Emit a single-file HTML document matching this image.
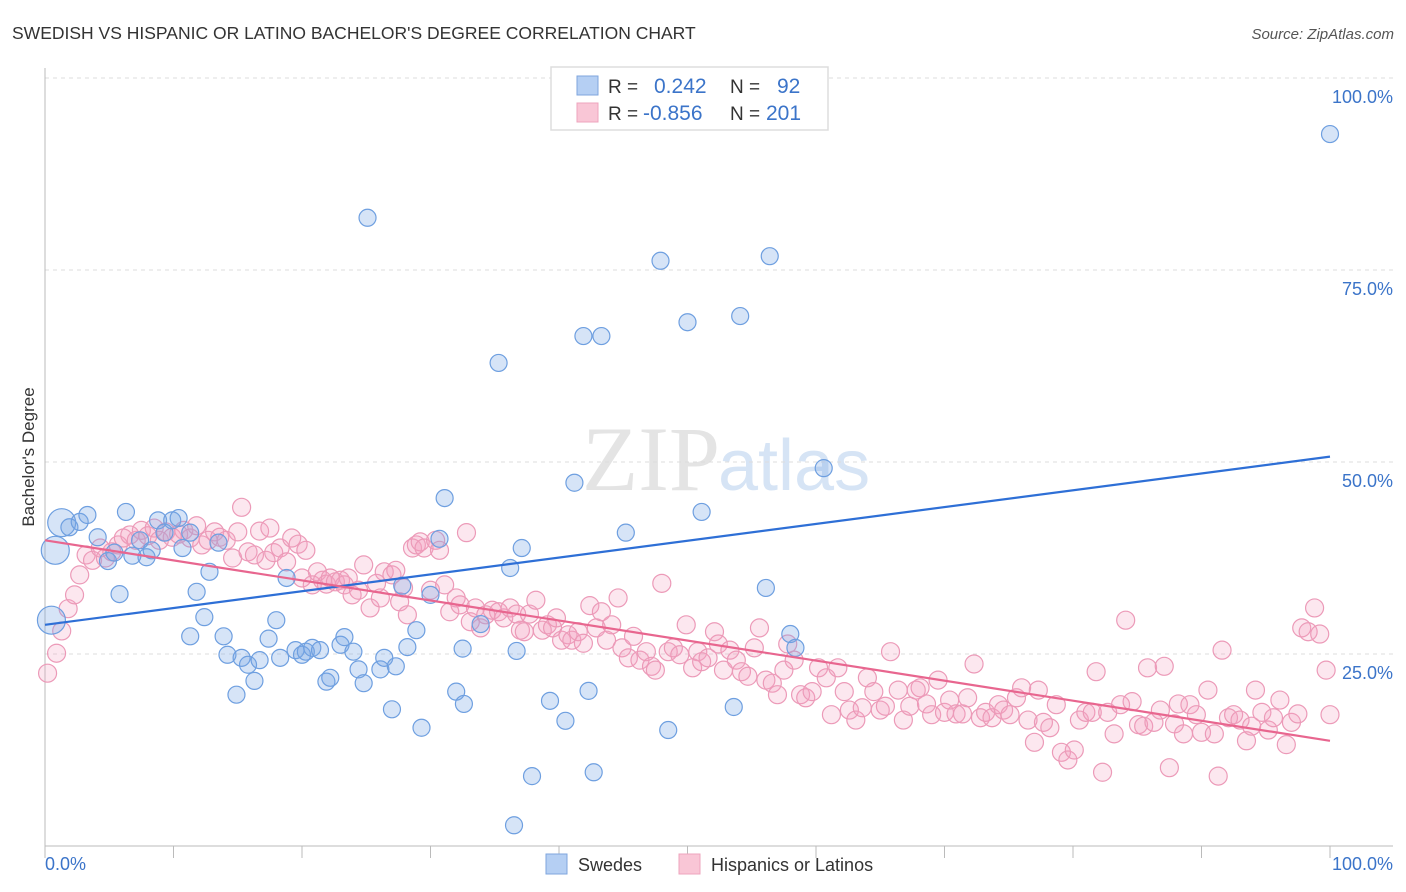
<!DOCTYPE html>
<html><head><meta charset="utf-8"><style>
body{margin:0;background:#fff;font-family:"Liberation Sans",sans-serif;}
svg{display:block}
</style></head><body>
<svg id="chart" width="1406" height="892" xmlns="http://www.w3.org/2000/svg">
<text x="12" y="39" font-size="17.5" fill="#333">SWEDISH VS HISPANIC OR LATINO BACHELOR'S DEGREE CORRELATION CHART</text>
<text x="1394" y="39" font-size="15" fill="#555" font-style="italic" text-anchor="end">Source: ZipAtlas.com</text>
<text x="720" y="490" font-size="92" fill="#e4e4e4" text-anchor="end" font-family="Liberation Serif,serif">ZIP</text>
<text x="718" y="490" font-size="72" fill="#d6e4f5">atlas</text>
<g id="grid"></g>
<g id="axes"></g>
<g id="pts"></g>
<g id="trends"></g>
<text transform="translate(34,457) rotate(-90)" font-size="17" fill="#333" text-anchor="middle">Bachelor's Degree</text>
<g>
<rect x="551" y="67" width="277" height="63" fill="#fff" stroke="#ddd" stroke-width="1.5"/>
<rect x="577" y="76" width="21" height="19" fill="#b5cff3" stroke="#7fa6de"/>
<rect x="577" y="103" width="21" height="19" fill="#f9c6d6" stroke="#eea4bd"/>
<text x="608" y="93" font-size="19" fill="#333">R =</text>
<text x="654" y="93" font-size="21" fill="#3b74c9">0.242</text>
<text x="730" y="93" font-size="19" fill="#333">N =</text>
<text x="777" y="93" font-size="21" fill="#3b74c9">92</text>
<text x="608" y="120" font-size="19" fill="#333">R =</text>
<text x="643" y="120" font-size="21" fill="#3b74c9">-0.856</text>
<text x="730" y="120" font-size="19" fill="#333">N =</text>
<text x="766" y="120" font-size="21" fill="#3b74c9">201</text>
</g>
<g>
<rect x="546" y="854" width="21" height="20" fill="#b5cff3" stroke="#7fa6de"/>
<text x="578" y="871" font-size="18" fill="#333">Swedes</text>
<rect x="679" y="854" width="21" height="20" fill="#f9c6d6" stroke="#eea4bd"/>
<text x="711" y="871" font-size="18" fill="#333">Hispanics or Latinos</text>
</g>
</svg>
<script>
const blueX=[0.5,0.8,1.3,1.9,2.7,3.3,4.1,4.9,5.4,5.8,6.3,6.8,7.4,7.9,8.3,8.8,9.3,9.9,10.4,10.7,11.3,11.8,12.4,12.8,13.5,11.3,13.9,14.2,14.9,15.3,15.8,16.3,16.7,17.4,18.0,18.3,18.8,19.5,20.0,20.3,20.8,21.4,21.9,22.2,23.0,23.3,24.0,24.4,24.8,25.1,26.1,26.4,27.0,27.3,27.8,28.2,28.9,29.3,30.0,30.7,31.1,32.0,32.5,32.6,33.9,35.3,36.2,36.7,37.1,36.5,37.9,39.3,40.5,41.2,41.9,42.3,42.7,43.3,45.2,47.9,48.5,50.0,51.1,53.6,54.1,56.1,56.4,58.0,58.4,60.6,100];
const blueY=[29.4,38.5,42.1,41.5,42.2,43.1,40.2,37.1,38.2,32.8,43.5,37.8,39.8,37.6,38.5,42.4,40.8,42.4,42.7,38.8,40.8,33.1,29.8,35.7,39.5,27.3,27.3,24.9,19.7,24.5,23.6,21.5,24.2,27.0,29.4,24.5,34.9,25.5,24.9,25.3,25.8,25.5,21.4,21.9,26.2,27.2,25.3,23.0,21.2,81.8,23.0,24.5,17.8,23.4,33.9,25.9,28.1,15.4,32.7,40.0,45.3,20.1,25.7,18.5,28.9,62.9,36.2,25.4,38.8,2.7,9.1,18.9,16.3,47.3,66.4,20.2,9.6,66.4,40.8,76.2,15.1,68.2,43.5,18.1,69.0,33.6,76.8,27.6,25.8,49.2,92.7];
const pinkX=[0.2,0.9,1.3,1.8,2.3,2.7,3.2,3.7,4.3,4.7,5.2,5.7,6.1,6.6,7.1,7.5,8.0,8.5,8.9,9.4,9.9,10.4,10.8,11.3,11.8,12.2,12.7,13.2,13.6,14.1,14.6,15.0,15.3,15.8,16.3,16.7,17.2,17.5,17.8,18.3,18.8,19.2,19.7,20.0,20.3,20.8,21.2,21.6,21.9,22.2,22.6,23.0,23.3,23.6,23.9,24.4,24.8,25.3,25.8,26.1,26.4,27.0,27.3,27.6,27.9,28.2,28.6,28.9,29.2,29.5,30.0,30.4,30.7,31.1,31.5,32.0,32.3,32.8,33.1,33.5,33.9,34.3,34.8,35.3,35.7,36.2,36.7,37.0,37.3,37.7,38.2,38.7,39.1,39.5,39.8,40.2,40.7,41.0,41.5,41.9,42.4,42.9,43.3,43.7,44.1,44.6,44.9,45.4,45.8,46.3,46.8,47.2,47.5,48.0,48.5,48.9,49.4,49.9,50.4,50.8,51.1,51.6,52.1,52.4,52.8,53.3,53.8,54.2,54.7,55.2,55.6,56.1,56.6,57.0,57.5,57.8,58.3,58.8,59.2,59.7,60.2,60.8,61.2,61.7,62.2,62.6,63.1,63.6,64.0,64.5,65.0,65.4,65.8,66.4,66.8,67.3,67.8,68.1,68.6,69.0,69.5,70.0,70.4,70.9,71.4,71.8,72.3,72.8,73.2,73.7,74.2,74.6,75.1,75.6,76.0,76.5,77.0,77.3,77.7,78.2,78.7,79.1,79.6,80.1,80.5,81.0,81.5,81.8,82.3,82.7,83.2,83.7,84.1,84.6,85.1,85.5,85.8,86.3,86.8,87.1,87.5,87.9,88.2,88.6,89.1,89.6,90.0,90.5,91.0,91.3,91.6,92.1,92.5,93.0,93.5,93.9,94.2,94.7,95.2,95.6,96.1,96.6,97.0,97.5,97.8,98.3,98.8,99.2,99.7,100];
const pinkY=[22.5,25.1,28.0,30.9,32.7,35.3,37.9,37.2,38.8,37.5,38.3,39.2,40.1,40.5,39.8,41.1,40.4,41.4,39.8,40.9,40.2,40.6,41.1,40.1,41.7,39.2,39.8,40.9,40.2,39.8,37.5,40.9,44.1,38.3,37.9,41.0,37.2,41.4,38.2,38.8,37.0,40.1,39.3,34.9,38.5,34.0,35.7,34.6,34.1,34.9,34.4,34.6,34.0,34.9,32.7,33.3,36.6,31.0,34.2,32.3,35.7,35.3,35.9,31.8,33.6,30.1,38.8,39.2,39.6,38.8,33.3,39.8,38.5,34.0,30.5,32.3,31.4,40.8,29.2,31.0,28.4,30.1,30.7,30.5,29.7,31.0,30.2,28.1,27.9,30.2,32.0,28.1,28.8,28.4,29.7,26.8,27.5,26.8,27.9,26.4,31.3,28.4,30.5,26.8,28.8,32.3,25.8,24.5,27.3,24.2,25.3,23.4,22.9,34.2,25.3,25.8,24.9,28.8,23.2,25.3,24.0,24.5,27.9,26.3,22.9,25.5,24.2,22.7,22.1,25.8,28.4,21.6,21.2,19.7,22.9,26.3,24.2,19.7,19.3,20.1,23.2,21.9,17.1,23.2,20.1,17.7,16.4,18.0,21.9,20.1,17.7,18.2,25.3,20.3,16.4,18.2,20.3,20.6,18.5,17.1,21.6,17.4,19.0,17.2,17.2,19.3,23.7,16.7,17.4,16.7,18.4,17.7,17.1,19.3,20.6,16.4,13.5,20.3,16.1,15.4,18.4,12.2,11.2,12.5,16.4,17.4,17.4,22.7,9.6,17.4,14.6,18.4,29.4,18.8,15.8,15.6,23.2,16.1,17.7,23.4,10.2,15.9,18.5,14.6,18.4,17.1,14.8,20.3,14.6,9.1,25.5,16.7,17.1,16.4,13.7,15.6,20.3,17.4,15.1,16.7,19.0,13.2,16.1,17.2,28.4,27.9,31.0,27.6,22.9,17.1];
const blueTrend=[28.8,50.7];
const pinkTrend=[39.8,13.7];
const yTicks=[25,50,75,100];
const xTickCount=10;
const NS="http://www.w3.org/2000/svg";
const X0=45,X1=1330,Y0=846,Y100=78;
const sx=v=>X0+(X1-X0)*v/100;
const sy=v=>Y0-(Y0-Y100)*v/100;
function mk(tag,attrs,parent){const e=document.createElementNS(NS,tag);for(const k in attrs)e.setAttribute(k,attrs[k]);parent.appendChild(e);return e;}
const grid=document.getElementById('grid'),axes=document.getElementById('axes');
yTicks.forEach(t=>{
 const l=mk('line',{x1:X0,x2:1393,y1:sy(t),y2:sy(t),stroke:'#ddd','stroke-dasharray':'4 4'},grid);
 
 
 const tx=mk('text',{x:1393,y:sy(t)+25,'font-size':18,fill:'#3b74c9','text-anchor':'end'},axes);
 tx.textContent=t.toFixed(1)+'%';
 
 
});
const ax=mk('line',{x1:X0,x2:1393,y1:Y0,y2:Y0,stroke:'#bbb'},axes);


const ay=mk('line',{x1:X0,x2:X0,y1:68,y2:Y0,stroke:'#bbb'},axes);


for(let i=0;i<=xTickCount;i++){
 const x=sx(i*100/xTickCount);
 const t=mk('line',{x1:x,x2:x,y1:Y0,y2:Y0+12,stroke:'#bbb'},axes);
 
 
}
const xl=mk('text',{x:X0,y:870,'font-size':18,fill:'#3b74c9'},axes);xl.textContent='0.0%';


const xr=mk('text',{x:1393,y:870,'font-size':18,fill:'#3b74c9','text-anchor':'end'},axes);xr.textContent='100.0%';


const pts=document.getElementById('pts');
pinkX.forEach((v,i)=>{
 const c=mk('circle',{cx:sx(v),cy:sy(pinkY[i]),r:9,fill:'rgba(244,160,190,0.25)',stroke:'#ec9ab8','stroke-width':1.2},pts);
 
 
});
blueX.forEach((v,i)=>{
 const c=mk('circle',{cx:sx(v),cy:sy(blueY[i]),r:i<3?14:8.5,fill:'rgba(120,165,230,0.3)',stroke:'#6e9fe0','stroke-width':1.2},pts);
 
 
});
const tr=document.getElementById('trends');
const bl=mk('line',{x1:sx(0),y1:sy(blueTrend[0]),x2:sx(100),y2:sy(blueTrend[1]),stroke:'#2e6fd6','stroke-width':2.2},tr);


const pl=mk('line',{x1:sx(0),y1:sy(pinkTrend[0]),x2:sx(100),y2:sy(pinkTrend[1]),stroke:'#e8668f','stroke-width':2.2},tr);


</script>
</body></html>
